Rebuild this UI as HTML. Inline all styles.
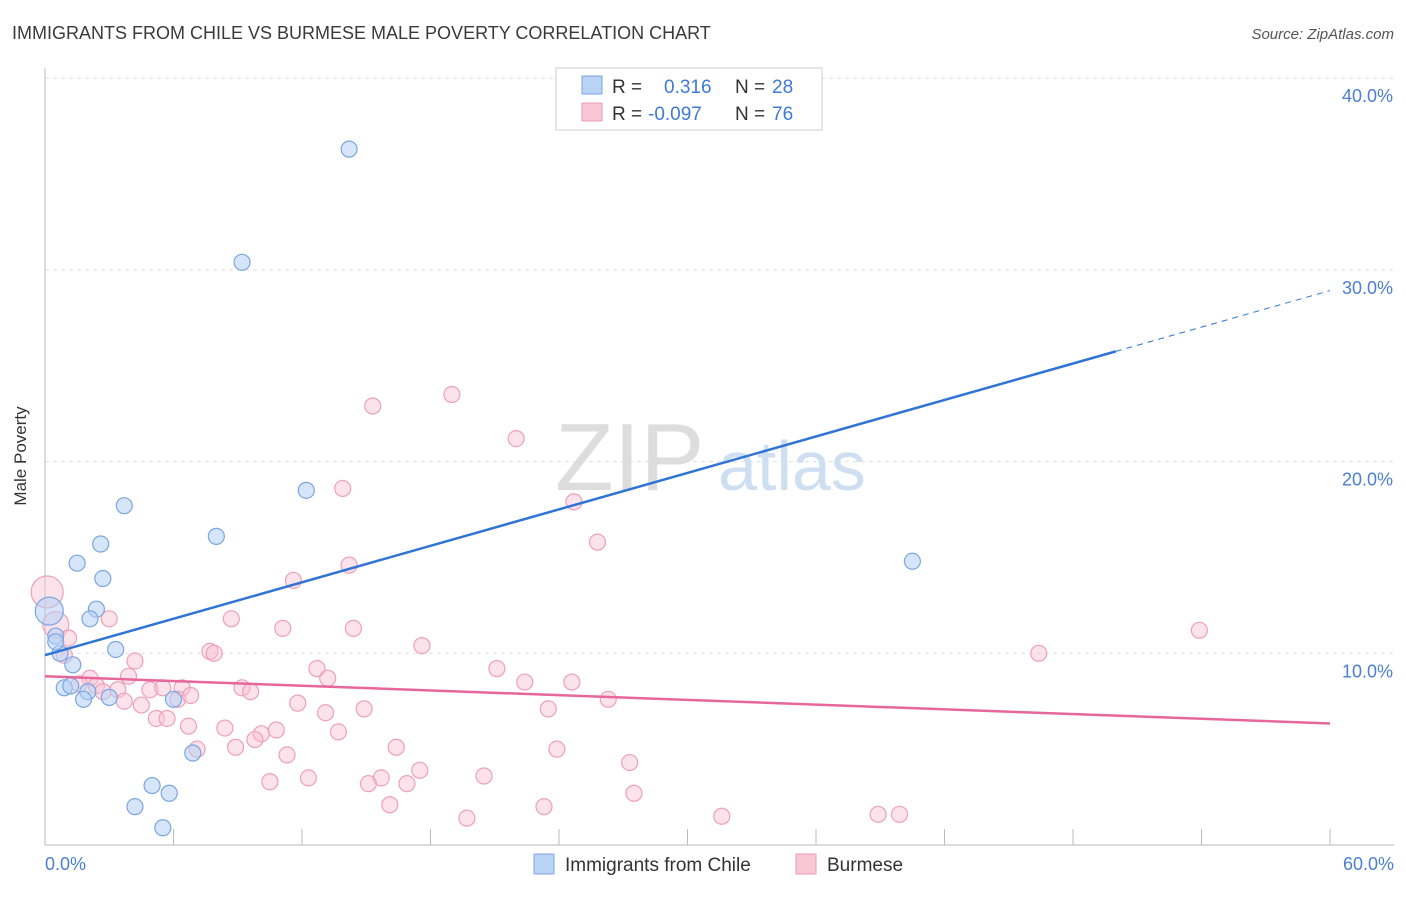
<!DOCTYPE html>
<html><head><meta charset="utf-8"><style>
body{margin:0;background:#fff;font-family:"Liberation Sans",sans-serif;}
svg text{font-family:"Liberation Sans",sans-serif;}
</style></head><body>
<svg width="1406" height="892" viewBox="0 0 1406 892">
<text x="12" y="39" font-size="18" fill="#3a3a3a">IMMIGRANTS FROM CHILE VS BURMESE MALE POVERTY CORRELATION CHART</text>
<text x="1394" y="39" font-size="15" fill="#555" text-anchor="end" font-style="italic">Source: ZipAtlas.com</text>
<g id="grid"></g>
<text x="555" y="490" font-size="96" fill="#ddd" font-family="Liberation Serif">ZIP</text>
<text x="718" y="490" font-size="70" fill="#cfdff2">atlas</text>
<line x1="45" y1="68" x2="45" y2="845" stroke="#bbb"/>
<line x1="45" y1="845" x2="1394" y2="845" stroke="#bbb"/>
<g id="ticks"></g>
<text x="26" y="456" font-size="17" fill="#333" text-anchor="middle" transform="rotate(-90 26 456)">Male Poverty</text>
<text x="45" y="870" font-size="18" fill="#4a7fd4">0.0%</text>
<text x="1394" y="870" font-size="18" fill="#4a7fd4" text-anchor="end">60.0%</text>
<g id="pts"></g>
<g id="trend"></g>
<g>
<rect x="556" y="68" width="266" height="62" fill="#fff" stroke="#ccc"/>
<rect x="582" y="76" width="20" height="18" fill="#b9d3f5" stroke="#7aa6e0"/>
<rect x="582" y="103" width="20" height="18" fill="#f9c6d6" stroke="#e99ab4"/>
<text x="612" y="93" font-size="19" fill="#333">R =</text>
<text x="664" y="93" font-size="19" fill="#3f7ad6">0.316</text>
<text x="735" y="93" font-size="19" fill="#333">N =</text>
<text x="772" y="93" font-size="19" fill="#3f7ad6">28</text>
<text x="612" y="120" font-size="19" fill="#333">R =</text>
<text x="648" y="120" font-size="19" fill="#3f7ad6">-0.097</text>
<text x="735" y="120" font-size="19" fill="#333">N =</text>
<text x="772" y="120" font-size="19" fill="#3f7ad6">76</text>
</g>
<g>
<rect x="534" y="854" width="20" height="20" fill="#b9d3f5" stroke="#7aa6e0"/>
<text x="565" y="871" font-size="19" fill="#333">Immigrants from Chile</text>
<rect x="796" y="854" width="20" height="20" fill="#f9c6d6" stroke="#e99ab4"/>
<text x="827" y="871" font-size="19" fill="#333">Burmese</text>
</g>
</svg>
<script>
const ns="http://www.w3.org/2000/svg";
const yTicks=[10,20,30,40];
const yTickLabels=["10.0%","20.0%","30.0%","40.0%"];
const xTicks=[0,6,12,18,24,30,36,42,48,54,60];
const chileX=[14.2,9.2,12.2,3.7,8.0,2.6,1.5,2.7,40.5,2.4,2.1,0.2,0.5,3.3,0.7,1.3,0.9,1.2,2.0,1.8,3.0,6.0,6.9,5.0,4.2,5.8,5.5,0.5];
const chileY=[36.3,30.4,18.5,17.7,16.1,15.7,14.7,13.9,14.8,12.3,11.8,12.2,10.9,10.2,10.0,9.4,8.2,8.3,8.0,7.6,7.7,7.6,4.8,3.1,2.0,2.7,0.9,10.6];
const chileR=[8,8,8,8,8,8,8,8,8,8,8,14,8,8,8,8,8,8,8,8,8,8,8,8,8,8,8,8];
const burX=[19.0,15.3,22.0,13.9,24.7,25.8,14.2,11.6,0.1,8.7,3.0,11.1,14.4,17.6,0.5,1.1,0.9,7.7,7.9,4.2,12.7,21.1,46.4,53.9,13.2,22.4,24.6,3.9,2.1,2.4,3.4,4.9,6.4,5.5,9.2,9.6,11.8,3.7,4.5,6.2,26.3,13.1,14.9,23.5,5.2,5.7,6.7,8.4,10.8,10.1,9.8,13.7,8.9,7.1,16.4,23.9,11.3,27.3,17.5,20.5,12.3,15.7,10.5,15.1,16.9,27.5,16.1,23.3,19.7,31.6,38.9,39.9,1.6,2.7,6.8];
const burY=[23.5,22.9,21.2,18.6,17.9,15.8,14.6,13.8,13.2,11.8,11.8,11.3,11.3,10.4,11.5,10.8,9.9,10.1,10.0,9.6,9.2,9.2,10.0,11.2,8.7,8.5,8.5,8.8,8.7,8.3,8.1,8.1,8.2,8.2,8.2,8.0,7.4,7.5,7.3,7.6,7.6,6.9,7.1,7.1,6.6,6.6,6.2,6.1,6.0,5.8,5.5,5.9,5.1,5.0,5.1,5.0,4.7,4.3,3.9,3.6,3.5,3.5,3.3,3.2,3.2,2.7,2.1,2.0,1.4,1.5,1.6,1.6,8.4,8.0,7.8];
const burR=burX.map((v,i)=>i===8?16:(i===14?13:8));
const X=v=>45+v*(1285/60);
const Y=v=>845-v*19.17;
const grid=document.getElementById("grid"),ticks=document.getElementById("ticks");
yTicks.forEach((t,i)=>{
 const l=document.createElementNS(ns,"line");
 
 
 l.setAttribute("x1",45);l.setAttribute("x2",1394);l.setAttribute("y1",Y(t));l.setAttribute("y2",Y(t));
 l.setAttribute("stroke","#ddd");l.setAttribute("stroke-dasharray","4,4");grid.appendChild(l);
 const tx=document.createElementNS(ns,"text");
 
 
 tx.setAttribute("x",1393);tx.setAttribute("y",Y(t)+24);tx.setAttribute("text-anchor","end");
 tx.setAttribute("font-size","18");tx.setAttribute("fill","#4a7fd4");tx.textContent=yTickLabels[i];grid.appendChild(tx);
});
xTicks.forEach(t=>{
 const l=document.createElementNS(ns,"line");
 
 
 l.setAttribute("x1",X(t));l.setAttribute("x2",X(t));l.setAttribute("y1",829);l.setAttribute("y2",845);
 l.setAttribute("stroke","#bbb");ticks.appendChild(l);
});
const pts=document.getElementById("pts");
function dot(x,y,r,f,s,name){
 const c=document.createElementNS(ns,"circle");
 
 
 c.setAttribute("cx",X(x));c.setAttribute("cy",Y(y));c.setAttribute("r",r);
 c.setAttribute("fill",f);c.setAttribute("stroke",s);c.setAttribute("stroke-width","1.2");pts.appendChild(c);
}
burX.forEach((x,i)=>dot(x,burY[i],burR[i],"rgba(249,190,210,0.45)","#eea0ba","burmese-point"));
chileX.forEach((x,i)=>dot(x,chileY[i],chileR[i],"rgba(180,208,245,0.55)","#7aa6e0","chile-point"));
const tr=document.getElementById("trend");
function line(x1,y1,x2,y2,c,w,dash,name){
 const l=document.createElementNS(ns,"line");
 
 
 l.setAttribute("x1",X(x1));l.setAttribute("y1",Y(y1));l.setAttribute("x2",X(x2));l.setAttribute("y2",Y(y2));
 l.setAttribute("stroke",c);l.setAttribute("stroke-width",w);if(dash)l.setAttribute("stroke-dasharray",dash);tr.appendChild(l);
}
const chileTrend=[9.9,0.317];
const burTrend=[8.8,-0.041];
line(0,chileTrend[0],50,chileTrend[0]+50*chileTrend[1],"#2f74d6",2.5,null,"chile-trend-line");
line(50,chileTrend[0]+50*chileTrend[1],60,chileTrend[0]+60*chileTrend[1],"#2f74d6",1,"6,5","chile-trend-extension");
line(0,burTrend[0],60,burTrend[0]+60*burTrend[1],"#e8679a",2.5,null,"burmese-trend-line");
</script>
</body></html>
